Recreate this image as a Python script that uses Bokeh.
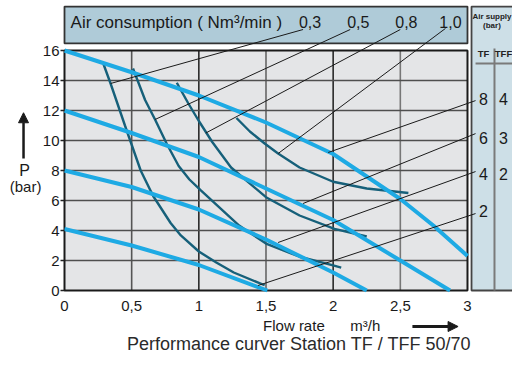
from bokeh.plotting import figure
from bokeh.models import Range1d, FixedTicker, Label, Arrow, NormalHead, LinearAxis
from bokeh.embed import file_html
from bokeh.resources import INLINE
from bokeh.core.properties import value

# ---------------- data ----------------
# supply-pressure curves (TF bar: 8, 6, 4, 2)
p8_x = [0, 0.5, 1.0, 1.5, 2.0, 2.5, 2.75, 3.0]
p8_y = [16, 14.55, 13.0, 11.2, 9.1, 6.1, 4.3, 2.3]
p6_x = [0, 0.5, 1.0, 1.5, 2.0, 2.5, 2.87]
p6_y = [12, 10.5, 8.9, 6.8, 4.7, 2.0, 0]
p4_x = [0, 0.5, 1.0, 1.5, 2.0, 2.25]
p4_y = [8, 6.9, 5.4, 3.4, 1.2, 0]
p2_x = [0, 0.5, 1.0, 1.51]
p2_y = [4.1, 3.0, 1.7, 0]

# air-consumption curves (Nm3/min: 0.3, 0.5, 0.8, 1.0)
a03_x = [0.29, 0.343, 0.45, 0.567, 0.66, 0.79, 0.866, 1.0, 1.13, 1.26, 1.49]
a03_y = [15.1, 13.8, 11.0, 8.0, 6.3, 4.5, 3.67, 2.6, 1.87, 1.2, 0.35]
a05_x = [0.51, 0.60, 0.674, 0.76, 0.85, 0.93, 1.015, 1.3, 1.5, 1.75, 2.0, 2.06]
a05_y = [14.8, 12.7, 11.4, 9.8, 8.3, 7.4, 6.67, 4.33, 3.13, 2.25, 1.67, 1.53]
a08_x = [0.836, 0.92, 1.0, 1.10, 1.24, 1.5, 1.75, 2.01, 2.25]
a08_y = [13.85, 12.5, 11.3, 9.9, 8.2, 6.22, 5.0, 4.11, 3.6]
a10_x = [1.28, 1.38, 1.49, 1.59, 1.75, 2.0, 2.25, 2.56]
a10_y = [11.5, 10.6, 9.8, 9.13, 8.2, 7.25, 6.8, 6.5]

x_ticks = [0, 0.5, 1, 1.5, 2, 2.5, 3]
x_tick_labels = ["0", "0,5", "1", "1,5", "2", "2,5", "3"]
y_ticks = [0, 2, 4, 6, 8, 10, 12, 14, 16]

air_labels = ["0,3", "0,5", "0,8", "1,0"]
air_label_x = [1.828, 2.187, 2.545, 2.873]
air_label_y = [17.9, 17.9, 17.9, 17.9]
# leader lines: curve point -> label
air_lead_x0 = [0.343, 0.674, 1.052, 1.59]
air_lead_y0 = [13.8, 11.4, 10.5, 9.13]
air_lead_x1 = [1.776, 2.127, 2.5, 2.836]
air_lead_y1 = [17.4, 17.4, 17.4, 17.47]

tf_labels = ["8", "6", "4", "2"]
tff_labels = ["4", "3", "2"]
supply_label_y = [12.8, 10.2, 7.8, 5.33]
tf_x = 3.119
tff_x = 3.268
sup_lead_x0 = [1.963, 1.776, 1.59, 1.44]
sup_lead_y0 = [9.2, 5.8, 3.2, 0.33]
sup_lead_x1 = [3.06, 3.06, 3.06, 3.06]
sup_lead_y1 = [12.66, 10.46, 7.93, 5.13]

# ---------------- styles ----------------
CYAN = "#1eaae4"
TEAL = "#16607a"
INK = "#1a1a1a"
FONT = "Liberation Sans"
SX = 134.33   # px per x unit
SY = 15.0     # px per y unit
W, H = 512, 354
X0PX, Y0PX = 64, 290   # pixel position of data origin

p = figure(width=W, height=H,
           x_range=Range1d(-X0PX / SX, (W - X0PX) / SX),
           y_range=Range1d((Y0PX - H) / SY, Y0PX / SY),
           output_backend="svg", toolbar_location=None,
           x_axis_location=None, y_axis_location=None, min_border=0)
p.outline_line_color = None
p.grid.visible = False
p.background_fill_color = "white"
p.border_fill_color = "white"

# axes fixed at the data origin
xax = LinearAxis(fixed_location=0, ticker=FixedTicker(ticks=x_ticks))
xax.major_label_overrides = {t: l for t, l in zip(x_ticks, x_tick_labels)}
xax.axis_line_color = None
xax.major_tick_line_color = None
xax.minor_tick_line_color = None
xax.major_label_standoff = 4
yax = LinearAxis(fixed_location=0, ticker=FixedTicker(ticks=y_ticks))
yax.axis_line_color = None
yax.major_tick_out = 4
yax.major_tick_in = 0
yax.major_tick_line_color = "#222222"
yax.major_tick_line_width = 1.5
yax.minor_tick_line_color = None
yax.major_label_standoff = 1
for ax in (xax, yax):
    ax.major_label_text_font = FONT
    ax.major_label_text_font_size = "15px"
    ax.major_label_text_color = INK
p.add_layout(xax, "below")
p.add_layout(yax, "left")

# plot area background
p.quad(left=[0], right=[3], bottom=[0], top=[16], fill_color="#e4e5e7", line_color=None)
# grid
gx = [0.5, 1, 1.5, 2, 2.5]
p.segment(x0=gx, y0=[0] * 5, x1=gx, y1=[16] * 5,
          line_color=["#555555", "#2a2a2a", "#666666", "#2a2a2a", "#777777"], line_width=1.6)
gy = [2, 4, 6, 8, 10, 12, 14]
p.segment(x0=[0] * 7, y0=gy, x1=[3] * 7, y1=gy, line_color="#4f4f4f", line_width=1.6)
# frame border
p.quad(left=[0], right=[3], bottom=[0], top=[16], fill_color=None, line_color=INK, line_width=2)

# top box
p.quad(left=[0], right=[3], bottom=[16.47], top=[18.93], fill_color="#afcbd8",
       line_color="#333333", line_width=1.8)
p.text(x=[0.045], y=[17.9], text=["Air consumption ( Nm³/min )"], text_font=value(FONT),
       text_font_size="17px", text_align="left", text_baseline="middle", text_color=INK)
p.text(x=air_label_x, y=air_label_y, text=air_labels, text_font=value(FONT),
       text_font_size="16px", text_align="center", text_baseline="middle", text_color=INK)

# right panel
p.quad(left=[3.030], right=[3.6], bottom=[0], top=[18.93], fill_color="#cddfe7",
       line_color="#444444", line_width=1.8)
p.segment(x0=[3.06], y0=[15.13], x1=[3.6], y1=[15.13], line_color="#7a7a7a", line_width=2)
p.segment(x0=[3.201], y0=[16.13], x1=[3.201], y1=[0], line_color="#7a7a7a", line_width=2)
p.text(x=[3.182, 3.182], y=[18.27, 17.67], text=["Air supply", "(bar)"], text_font=value(FONT),
       text_font_size="8px", text_font_style="bold", text_align="center", text_baseline="middle",
       text_color="#222222")
p.text(x=[tf_x, tff_x], y=[15.8, 15.8], text=["TF", "TFF"], text_font=value(FONT),
       text_font_size="9.5px", text_font_style="bold", text_align="center", text_baseline="middle",
       text_color="#222222")
p.text(x=[tf_x] * 4, y=supply_label_y, text=tf_labels, text_font=value(FONT),
       text_font_size="16px", text_align="center", text_baseline="middle", text_color=INK)
p.text(x=[tff_x] * 3, y=supply_label_y[:3], text=tff_labels, text_font=value(FONT),
       text_font_size="16px", text_align="center", text_baseline="middle", text_color=INK)

# air-consumption curves
for xs, ys in ((a03_x, a03_y), (a05_x, a05_y), (a08_x, a08_y), (a10_x, a10_y)):
    p.line(xs, ys, line_color=TEAL, line_width=2.4)
# pressure curves
for xs, ys in ((p8_x, p8_y), (p6_x, p6_y), (p4_x, p4_y), (p2_x, p2_y)):
    p.line(xs, ys, line_color=CYAN, line_width=4)

# leader lines
p.segment(x0=air_lead_x0, y0=air_lead_y0, x1=air_lead_x1, y1=air_lead_y1,
          line_color=INK, line_width=1)
p.segment(x0=sup_lead_x0, y0=sup_lead_y0, x1=sup_lead_x1, y1=sup_lead_y1,
          line_color=INK, line_width=1)

# outside texts
p.add_layout(Label(x=-0.298, y=8.0, text="P", text_font=FONT, text_font_size="16px",
                   text_align="center", text_baseline="middle", text_color=INK))
p.add_layout(Label(x=-0.29, y=6.93, text="(bar)", text_font=FONT, text_font_size="15px",
                   text_align="center", text_baseline="middle", text_color=INK))
p.add_layout(Arrow(x_start=-0.305, y_start=8.8, x_end=-0.305, y_end=11.85, line_width=2.5,
                   line_color=INK,
                   end=NormalHead(size=10, fill_color=INK, line_color=INK)))
p.add_layout(Label(x=1.478, y=-2.3, text="Flow rate", text_font=FONT, text_font_size="15px",
                   text_align="left", text_baseline="middle", text_color=INK))
p.add_layout(Label(x=2.127, y=-2.3, text="m³/h", text_font=FONT, text_font_size="15px",
                   text_align="left", text_baseline="middle", text_color=INK))
p.add_layout(Arrow(x_start=2.59, y_start=-2.4, x_end=2.93, y_end=-2.4, line_width=3,
                   line_color=INK,
                   end=NormalHead(size=10, fill_color=INK, line_color=INK)))
p.add_layout(Label(x=1.746, y=-3.55, text="Performance curver Station TF / TFF 50/70",
                   text_font=FONT, text_font_size="18px", text_align="center",
                   text_baseline="middle", text_color="#2a2a2a"))

open("out.html", "w").write(file_html(p, INLINE))
